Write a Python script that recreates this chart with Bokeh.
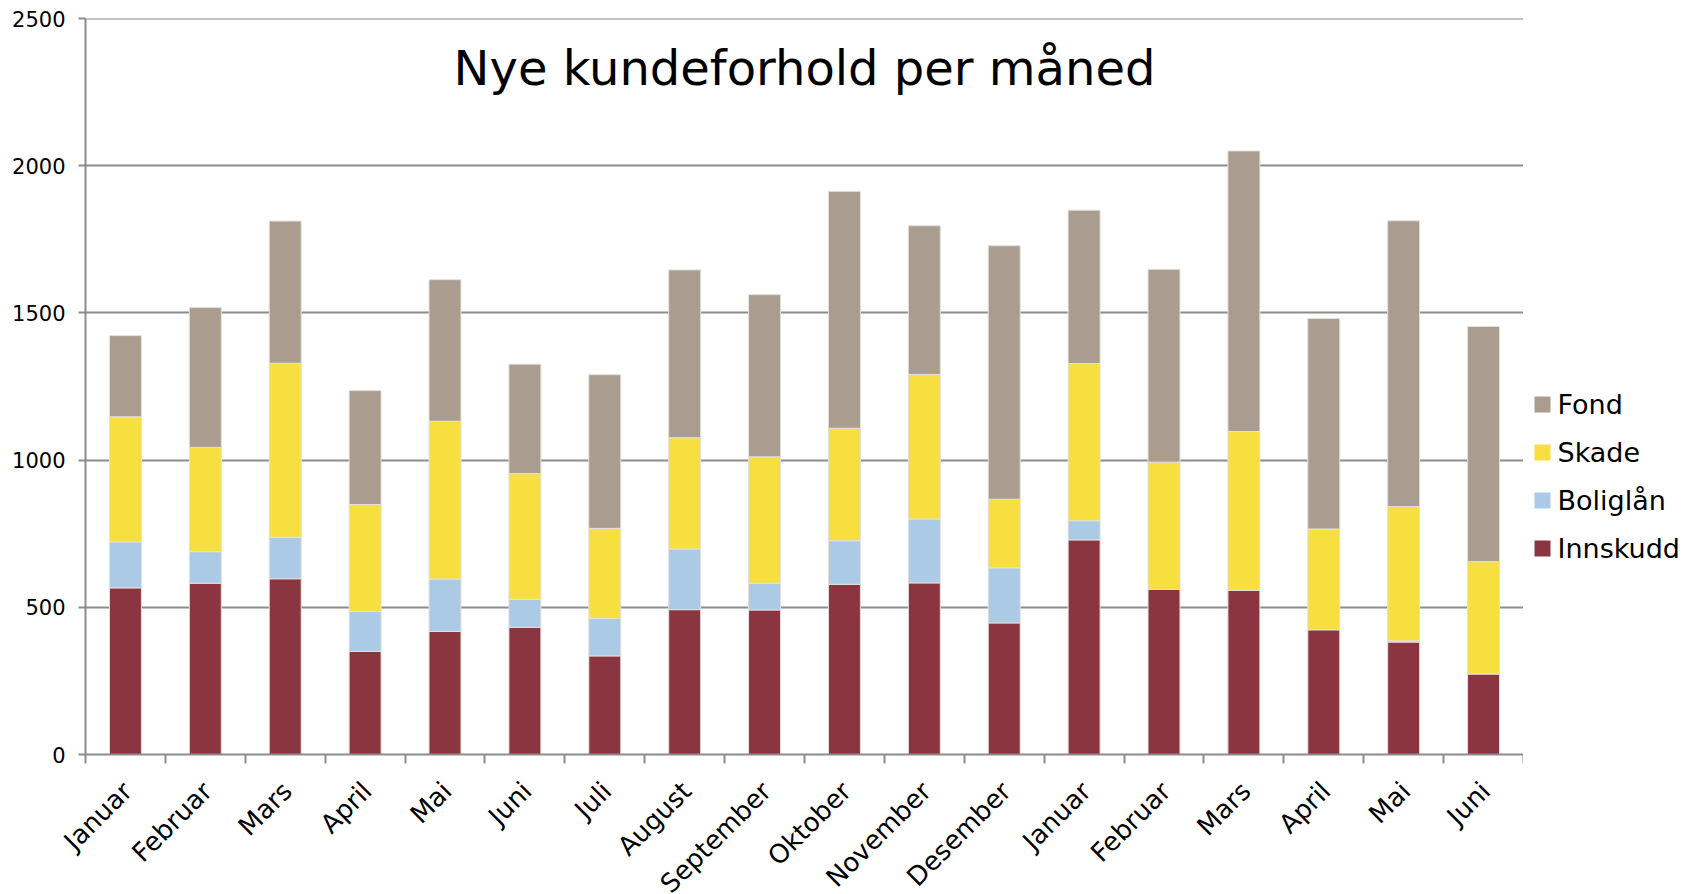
import math
from bokeh.plotting import figure
from bokeh.layouts import row, column
from bokeh.models import ColumnDataSource, FixedTicker, Label, Range1d, Span
from bokeh.core.properties import value
from bokeh.embed import file_html
from bokeh.resources import INLINE

months = ["Januar", "Februar", "Mars", "April", "Mai", "Juni", "Juli", "August",
          "September", "Oktober", "November", "Desember", "Januar", "Februar",
          "Mars", "April", "Mai", "Juni"]
innskudd = [566, 582, 597, 350, 418, 432, 335, 492, 491, 578, 583, 447, 729, 561, 558, 424, 382, 274]
boliglan = [156, 107, 141, 136, 178, 95, 127, 206, 91, 148, 217, 187, 65, 0, 0, 0, 4, 0]
skade = [425, 354, 591, 363, 536, 427, 306, 378, 429, 382, 491, 233, 534, 432, 539, 342, 456, 381]
fond = [276, 475, 483, 387, 481, 372, 522, 570, 551, 805, 505, 861, 521, 655, 953, 715, 971, 799]
series_names = ["Innskudd", "Boliglån", "Skade", "Fond"]
colors = ["#8B3540", "#ABCAE6", "#F7DF40", "#AA9C8E"]
y_ticks = [0, 500, 1000, 1500, 2000, 2500]
title_text = "Nye kundeforhold per måned"

n = len(months)
xpos = [i + 0.5 for i in range(n)]
src = ColumnDataSource(dict(x=xpos, Innskudd=innskudd, Boliglån=boliglan, Skade=skade, Fond=fond))

FONT = "DejaVu Sans"
GRID = "#8C8C8C"
EDGE = "#E4E0DC"

# layout constants (pixels)
W_TOTAL, H_TOTAL = 1696, 894
LEFT, TOP, FRAME_W, FRAME_H = 85, 18, 1438, 736
AX_PAD = 13                      # space under the frame for the tick marks / "0" label
MAIN_W = LEFT + FRAME_W
MAIN_H = TOP + FRAME_H + AX_PAD
LAB_H = H_TOTAL - MAIN_H
LEG_W = W_TOTAL - MAIN_W
LAB_Y = 32 - AX_PAD              # label anchor distance below the x axis, in the strip

p = figure(width=MAIN_W, height=MAIN_H, x_range=Range1d(0, n), y_range=Range1d(0, y_ticks[-1]),
           output_backend="svg", toolbar_location=None,
           min_border_left=LEFT, min_border_right=0, min_border_top=TOP, min_border_bottom=AX_PAD)
p.frame_align = False
p.outline_line_color = None
p.background_fill_color = "white"
p.border_fill_color = "white"

renderers = p.vbar_stack(series_names, x="x", width=0.4, source=src, color=colors,
                         line_color=EDGE, line_width=1)

# grid
p.xgrid.visible = False
p.ygrid.ticker = FixedTicker(ticks=y_ticks)
p.ygrid.grid_line_color = GRID
p.ygrid.grid_line_width = 2
p.add_layout(Span(location=y_ticks[-1], dimension="width", line_color=GRID, line_width=2))

# y axis
ya = p.yaxis[0]
ya.ticker = FixedTicker(ticks=y_ticks)
ya.axis_line_color = GRID
ya.axis_line_width = 2
ya.major_tick_line_color = GRID
ya.major_tick_line_width = 2
ya.major_tick_out = 7
ya.major_tick_in = 0
ya.minor_tick_line_color = None
ya.major_label_text_font = FONT
ya.major_label_text_font_size = "21px"
ya.major_label_text_color = "black"
ya.major_label_standoff = 13

# x axis (ticks between categories; labels drawn in the strip below)
xa = p.xaxis[0]
xa.ticker = FixedTicker(ticks=xpos, minor_ticks=list(range(n + 1)))
xa.major_label_overrides = {x: "" for x in xpos}
xa.major_label_standoff = 0
xa.axis_line_color = GRID
xa.axis_line_width = 2
xa.major_tick_line_color = None
xa.major_tick_out = 0
xa.major_tick_in = 0
xa.minor_tick_line_color = GRID
xa.minor_tick_line_width = 2
xa.minor_tick_out = 9
xa.minor_tick_in = 0

# title inside plot area
p.add_layout(Label(x=n / 2, y=2333, text=title_text, text_align="center",
                   text_baseline="middle", text_font=FONT, text_font_size="48px",
                   text_color="black"))

# strip with the rotated month labels, same x scale as the main plot
px_per_unit = FRAME_W / n
lab = figure(width=MAIN_W, height=LAB_H,
             x_range=Range1d(-LEFT / px_per_unit, n), y_range=Range1d(LAB_H, 0),
             output_backend="svg", toolbar_location=None,
             x_axis_location=None, y_axis_location=None,
             min_border_left=0, min_border_right=0, min_border_top=0, min_border_bottom=0)
lab.frame_align = False
lab.grid.visible = False
lab.outline_line_color = None
lab_src = ColumnDataSource(dict(x=xpos, y=[LAB_Y] * n, t=months))
lab.text(x="x", y="y", text="t", source=lab_src, angle=math.pi / 4,
         text_align="right", text_baseline="middle", x_offset=2,
         text_font=value(FONT), text_font_size=value("26px"), text_color="black")

# legend panel
leg = figure(width=LEG_W, height=H_TOTAL, x_range=Range1d(0, LEG_W), y_range=Range1d(H_TOTAL, 0),
             output_backend="svg", toolbar_location=None,
             x_axis_location=None, y_axis_location=None,
             min_border_left=0, min_border_right=0, min_border_top=0, min_border_bottom=0)
leg.frame_align = False
leg.grid.visible = False
leg.outline_line_color = None
LEG_SQ_X, LEG_TXT_X, LEG_Y0, LEG_STEP, LEG_SQ = 19, 34, 404, 48, 16
names_top_down = series_names[::-1]
colors_top_down = colors[::-1]
leg_y = [LEG_Y0 + i * LEG_STEP for i in range(len(names_top_down))]
leg_src = ColumnDataSource(dict(y=leg_y, name=names_top_down, color=colors_top_down))
leg.rect(x=LEG_SQ_X, y="y", width=LEG_SQ, height=LEG_SQ, fill_color="color",
         line_color=None, source=leg_src)
leg.text(x=LEG_TXT_X, y="y", text="name", source=leg_src, text_align="left",
         text_baseline="middle", text_font=value(FONT), text_font_size=value("27px"),
         text_color="black")

layout = row(column(p, lab), leg)
open("out.html", "w").write(file_html(layout, INLINE))
